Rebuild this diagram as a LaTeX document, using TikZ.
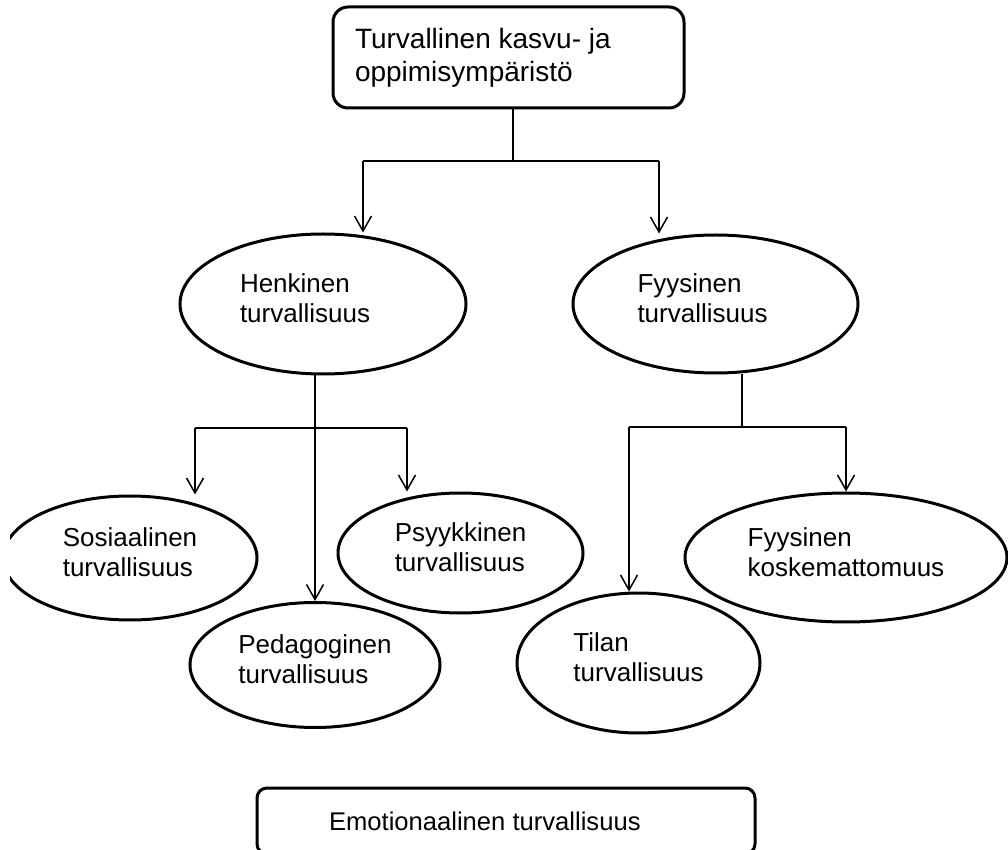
\documentclass[tikz,border=0pt]{standalone}
\usepackage{fontspec}
\setmainfont{Liberation Sans}
\usetikzlibrary{shapes.geometric,arrows.meta}
\tikzset{
  oval/.style={ellipse,draw,line width=1.5pt,inner sep=0pt,align=flush left,
    font=\fontsize{13}{15}\selectfont,
    execute at end node={\rule[-5.5pt]{0pt}{5.5pt}}},
  box/.style={rectangle,draw,line width=1.5pt,align=flush left},
  arr/.style={-{Straight Barb[length=7.5pt,width=8.5pt]}},
}
\begin{document}
\begin{tikzpicture}[x=0.5pt,y=-0.5pt,line width=0.75pt]
  \useasboundingbox (0,0) rectangle (1008,850);
  \clip (10,0) rectangle (1008,850);
  \draw
    (508.5,57.5) node[box,rounded corners=7.5pt,minimum width=175.5pt,minimum height=50.5pt,
      text width=153.5pt,inner xsep=11pt,font=\fontsize{14}{16.5}\selectfont] (goal)
      {Turvallinen kasvu- ja\\oppimisympäristö}
    (323,304) node[oval,minimum width=143pt,minimum height=70pt,text width=83pt] (henk)
      {Henkinen\\turvallisuus}
    (715.5,304) node[oval,minimum width=142.5pt,minimum height=69pt,text width=78pt] (fyys)
      {Fyysinen\\turvallisuus}
    (130,558) node[oval,minimum width=127pt,minimum height=62pt] (sos)
      {Sosiaalinen\\turvallisuus}
    (460.5,553) node[oval,minimum width=122.5pt,minimum height=60pt] (psy)
      {Psyykkinen\\turvallisuus}
    (315,665) node[oval,minimum width=125pt,minimum height=62.5pt] (ped)
      {Pedagoginen\\turvallisuus}
    (638.5,663) node[oval,minimum width=121.5pt,minimum height=70pt] (tila)
      {Tilan\\turvallisuus}
    (846,557.5) node[oval,minimum width=161pt,minimum height=64.5pt] (koske)
      {Fyysinen\\koskemattomuus}
    (506,821) node[box,rounded corners=5pt,minimum width=249pt,minimum height=33pt,
      text width=177pt,inner xsep=36pt,font=\fontsize{12.8}{15}\selectfont] (emo)
      {Emotionaalinen turvallisuus};
  \coordinate (t1) at (513,161);
  \coordinate (t1l) at (363,161);
  \coordinate (t1r) at (659,161);
  \coordinate (h1) at (315,428);
  \coordinate (h1l) at (195,428);
  \coordinate (h1r) at (407,428);
  \coordinate (f1) at (742,427);
  \coordinate (f1l) at (629,427);
  \coordinate (f1r) at (846,427);
  \begin{scope}[-]
    \draw (t1 |- goal.south) to (t1);
    \draw (t1l) to (t1r);
    \draw (h1 |- henk.south) to (h1);
    \draw (h1l) to (h1r);
    \draw (f1 |- fyys.south) to (f1);
    \draw (f1l) to (f1r);
  \end{scope}
  \begin{scope}[arr]
    \draw (t1l) to (t1l |- henk.north);
    \draw (t1r) to (t1r |- fyys.north);
    \draw (h1l) to (h1l |- sos.north);
    \draw (h1) to (ped);
    \draw (h1r) to (h1r |- psy.north);
    \draw (f1l) to (f1l |- tila.north);
    \draw (f1r) to (koske);
  \end{scope}
\end{tikzpicture}
\end{document}
